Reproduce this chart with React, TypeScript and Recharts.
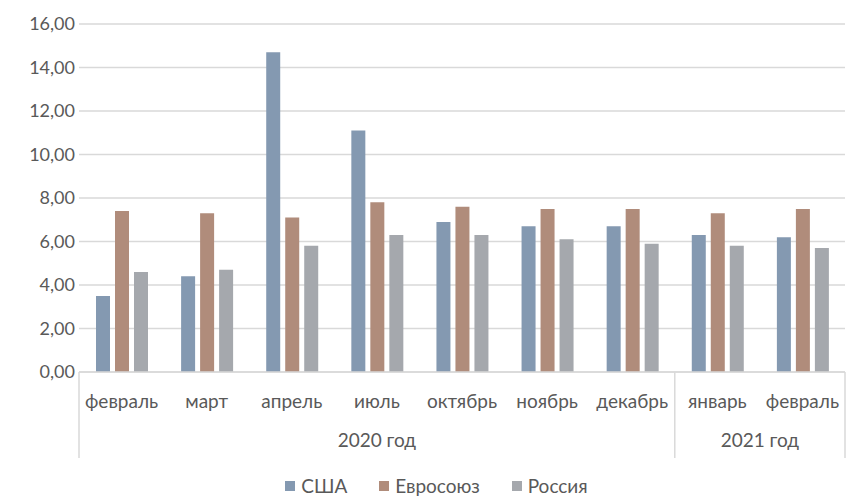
import { BarChart, Bar, XAxis, YAxis, CartesianGrid, Legend } from "recharts";

const months = ["февраль", "март", "апрель", "июль", "октябрь", "ноябрь", "декабрь", "январь", "февраль"];
const years = ["2020 год", "2020 год", "2020 год", "2020 год", "2020 год", "2020 год", "2020 год", "2021 год", "2021 год"];
const usa = [3.5, 4.4, 14.7, 11.1, 6.9, 6.7, 6.7, 6.3, 6.2];
const eu = [7.4, 7.3, 7.1, 7.8, 7.6, 7.5, 7.5, 7.3, 7.5];
const russia = [4.6, 4.7, 5.8, 6.3, 6.3, 6.1, 5.9, 5.8, 5.7];
const yTicks = [0, 2, 4, 6, 8, 10, 12, 14, 16];

const seriesList = [
  { key: "usa", name: "США", color: "#8499B1" },
  { key: "eu", name: "Евросоюз", color: "#B08C7B" },
  { key: "russia", name: "Россия", color: "#A5A8AD" },
];

const data = months.map((m, i) => ({
  key: i,
  month: m,
  year: years[i],
  usa: usa[i],
  eu: eu[i],
  russia: russia[i],
}));

const textColor = "#595959";
const lineColor = "#D9D9D9";
const font = "Lato, 'Open Sans', sans-serif";
const fontSize = 18;
const labelSize = 19;

const fmt = (v: number) => v.toFixed(2).replace(".", ",");

const MonthTick = (props: any) => {
  const { x, y, payload } = props;
  return (
    <text x={x} y={y + 28} textAnchor="middle" fill={textColor} fontSize={labelSize} fontFamily={font}>
      {months[payload.index]}
    </text>
  );
};

const YearTick = (props: any) => {
  const { x, y, payload } = props;
  const i = payload.index;
  const half = payload.offset ?? 42.5;
  const band = half * 2;
  const top = y - 53;
  const bottom = y + 33;
  const isFirst = i === 0 || years[i - 1] !== years[i];
  const isLast = i === years.length - 1;
  let count = 0;
  for (let j = i; j < years.length && years[j] === years[i]; j++) count++;
  return (
    <g>
      {isFirst && (
        <line x1={x - half} x2={x - half} y1={top} y2={bottom} stroke={lineColor} strokeWidth={1.5} />
      )}
      {isLast && (
        <line x1={x + half} x2={x + half} y1={top} y2={bottom} stroke={lineColor} strokeWidth={1.5} />
      )}
      {isFirst && (
        <text x={x + ((count - 1) * band) / 2} y={y + 22} textAnchor="middle" fill={textColor} fontSize={labelSize} fontFamily={font}>
          {years[i]}
        </text>
      )}
    </g>
  );
};

const LegendContent = () => (
  <div
    style={{
      display: "flex",
      justifyContent: "center",
      gap: 32,
      paddingTop: 16,
      marginLeft: 28,
      fontFamily: font,
      fontSize: labelSize,
      color: textColor,
      height: 24,
      lineHeight: "24px",
    }}
  >
    {seriesList.map((s) => (
      <span key={s.key} style={{ display: "flex", alignItems: "center" }}>
        <span style={{ width: 10, height: 10, background: s.color, display: "inline-block", marginRight: 6 }} />
        {s.name}
      </span>
    ))}
  </div>
);

export default function App() {
  return (
    <div style={{ position: "absolute", left: 0, top: 0, background: "#fff" }}>
      <BarChart
        width={847}
        height={498}
        data={data}
        margin={{ top: 24, right: 2, left: 0, bottom: 0 }}
        barCategoryGap={16}
        barGap={5}
      >
        <CartesianGrid vertical={false} stroke={lineColor} strokeWidth={1.5} />
        <YAxis
          domain={[0, 16]}
          ticks={yTicks}
          tickFormatter={fmt}
          axisLine={false}
          tickLine={false}
          width={79}
          tick={{ fill: textColor, fontSize, fontFamily: font, dx: 4 }}
        />
        <XAxis
          xAxisId="month"
          dataKey="key"
          height={45}
          axisLine={{ stroke: lineColor, strokeWidth: 1.5 }}
          tickLine={false}
          interval={0}
          tick={<MonthTick />}
        />
        <XAxis
          xAxisId="year"
          dataKey="key"
          height={41}
          axisLine={false}
          tickLine={false}
          interval={0}
          tick={<YearTick />}
        />
        <Legend verticalAlign="bottom" content={<LegendContent />} />
        {seriesList.map((s) => (
          <Bar
            key={s.key}
            xAxisId="month"
            dataKey={s.key}
            name={s.name}
            fill={s.color}
            barSize={14}
            isAnimationActive={false}
          />
        ))}
      </BarChart>
    </div>
  );
}
